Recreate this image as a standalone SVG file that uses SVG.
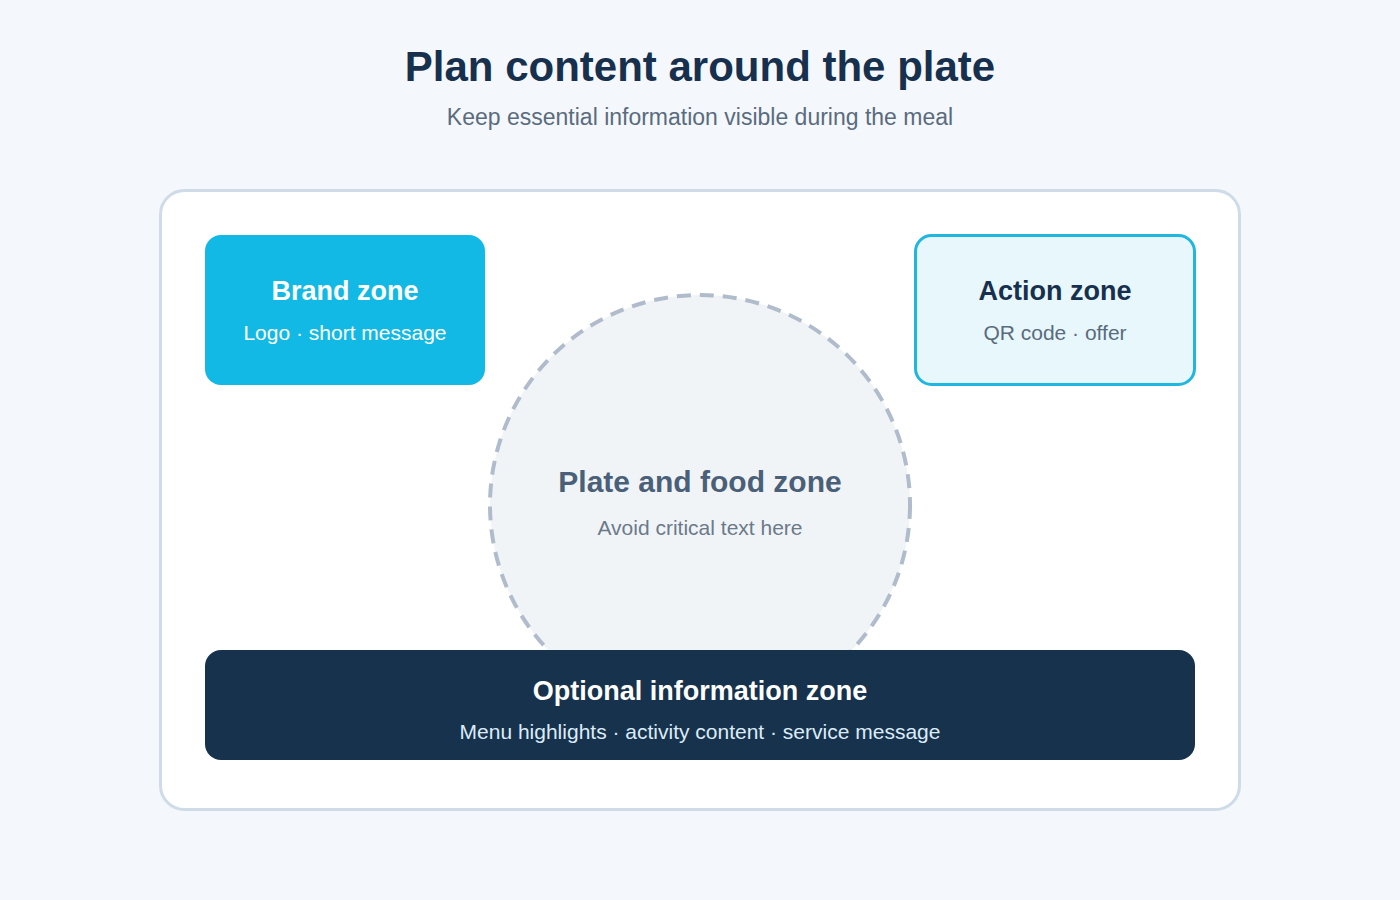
<svg xmlns="http://www.w3.org/2000/svg" width="1400" height="900" viewBox="0 0 1400 900">
<style>
text{font-family:"Liberation Sans",Arial,sans-serif;text-anchor:middle}
.h{font-weight:bold;font-size:27px}
.s{font-size:21px}
</style>
<rect width="1400" height="900" fill="#f4f8fc"/>
<text x="700" y="81" font-size="42" font-weight="bold" fill="#17304d">Plan content around the plate</text>
<text x="700" y="125" font-size="23" fill="#5a6b7e">Keep essential information visible during the meal</text>
<rect x="160.5" y="190.5" width="1079" height="619" rx="24" fill="#ffffff" stroke="#cfdbe6" stroke-width="3"/>
<g id="plate">
<circle cx="700" cy="505" r="210" fill="#f1f4f7" stroke="#b0bccb" stroke-width="4" stroke-dasharray="14 9"/>
<text x="700" y="492" font-size="30" font-weight="bold" fill="#4a6078">Plate and food zone</text>
<text x="700" y="535" class="s" fill="#6b7a8a">Avoid critical text here</text>
</g>
<g id="brand">
<rect x="205" y="235" width="280" height="150" rx="16" fill="#12b9e4"/>
<text x="345" y="300" class="h" fill="#ffffff">Brand zone</text>
<text x="345" y="340" class="s" fill="#ffffff">Logo · short message</text>
</g>
<g id="action">
<rect x="915.5" y="235.5" width="279" height="149" rx="16" fill="#e8f7fc" stroke="#1fb6e0" stroke-width="3"/>
<text x="1055" y="300" class="h" fill="#17304d">Action zone</text>
<text x="1055" y="340" class="s" fill="#5a6b7e">QR code · offer</text>
</g>
<g id="optional">
<rect x="205" y="650" width="990" height="110" rx="16" fill="#17324d"/>
<text x="700" y="700" class="h" fill="#ffffff">Optional information zone</text>
<text x="700" y="739" class="s" fill="#dcecf7">Menu highlights · activity content · service message</text>
</g>
<g id="connectors"/>
</svg>
